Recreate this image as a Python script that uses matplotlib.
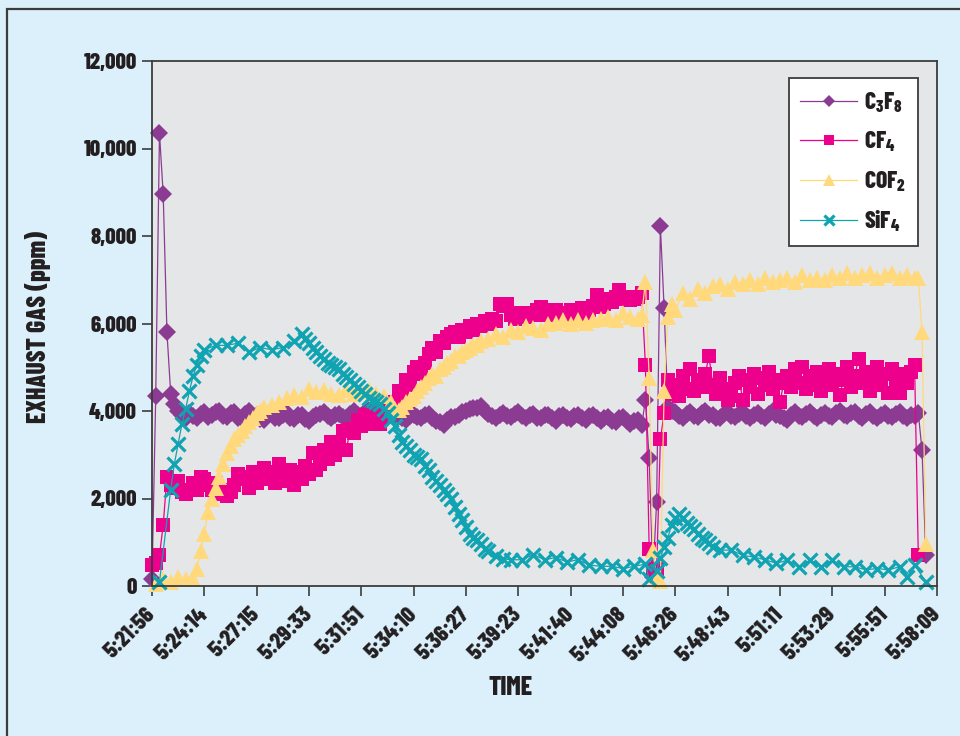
import matplotlib
matplotlib.use("Agg")
import matplotlib.pyplot as plt
from matplotlib.patches import Rectangle
from matplotlib.ticker import FuncFormatter

# ---- data -----------------------------------------------------------------
# sample index -> concentration (ppm); None = no reading for that sample
time_labels = ["5:21:56", "5:24:14", "5:27:15", "5:29:33", "5:31:51", "5:34:10",
               "5:36:27", "5:39:23", "5:41:40", "5:44:08", "5:46:26", "5:48:43",
               "5:51:11", "5:53:29", "5:55:51", "5:58:09"]
samples_per_label = 14

c3f8 = [
    160, 4350, 10350, 8950, 5800, 4400, 4150, 4000, 3900, 3850,
    3950, 3880, 3830, 3940, 3980, 3860, 3900, 3980, 4000, 3880,
    3860, 3950, 3980, 3850, 3830, 3940, 3990, 3870, 3910, 3820,
    3800, 3900, 3930, 3840, 3830, 3920, 3960, 3850, 3810, 3900,
    3920, 3820, 3780, 3870, 3900, 3940, 3970, 3880, 3840, 3920,
    3940, 3860, 3830, 3930, 3990, 3910, 3880, 3970, 4020, 3950,
    3970, 3880, 3850, 3950, 4000, 3920, 3880, 3840, 3800, 3890,
    3920, 3860, 3830, 3920, 3940, 3840, 3780, 3740, 3690, 3800,
    3870, 3860, 3920, 3970, 4000, 4040, 4070, 4060, 4110, 4010,
    3930, 3880, 3830, 3910, 3950, 3880, 3860, 3940, 3970, 3880,
    3830, 3900, 3940, 3850, 3830, 3910, 3920, 3830, 3780, 3880,
    3920, 3840, 3810, 3890, 3900, 3830, 3800, 3890, 3920, 3830,
    3780, 3850, 3870, 3780, 3760, 3840, 3870, 3770, 3700, 3780,
    3800, 3680, 4250, 2920, 200, 1930, 8230, 6350, 4100, 4000,
    3970, 3880, 3830, 3940, 3970, 3880, 3860, 3950, 4000, 3900,
    3920, 3850, 3830, 3930, 3970, 3880, 3860, 3940, 3980, 3890,
    3830, 3910, 3950, 3880, 3850, 3940, 4000, 3920, 3880, 3840,
    3800, 3900, 3970, 3890, 3860, 3940, 3980, 3880, 3830, 3910,
    3950, 3880, 3860, 3950, 3990, 3910, 3880, 3960, 3980, 3890,
    3850, 3930, 3970, 3880, 3830, 3910, 3950, 3880, 3860, 3940,
    3970, 3890, 3850, 3910, 3880, 3950, 3100, 700,
]

cf4 = [
    480, 520, 700, 1400, 2500, 2300, 2250, 2400, 2150, 2100,
    2200, 2350, 2200, 2500, 2450, 2300, 2200, 2350, 2100, 2200,
    2050, 2150, 2300, 2550, 2450, 2500, 2250, 2600, 2350, 2500,
    2700, 2450, 2600, 2350, 2800, 2500, 2400, 2650, 2300, 2600,
    2450, 2750, 2550, 3050, 2650, 2800, 3100, 2900, 3300, 3000,
    3250, 3550, 3100, 3600, 3500, 3800, 3650, 3900, 3700, 3850,
    3800, 3700, 3950, 4000, 4150, 4200, 4450, 4350, 4700, 4600,
    4900, 5000, 4850, 5100, 5300, 5450, 5350, 5600, 5550, 5700,
    5750, 5800, 5700, 5850, 5800, 5950, 5850, 6000, 5950, 6050,
    6000, 6100, 6050, 6450, 6400, 6450, 6200, 6100, 6250, 6150,
    6150, 6250, 6200, 6300, 6380, 6200, 6300, 6250, 6310, 6200,
    6250, 6200, 6300, 6270, 6200, 6350, 6250, 6300, 6400, 6650,
    6380, 6450, 6550, 6500, 6610, 6770, 6550, 6600, 6540, 6550,
    6600, 6700, 5050, 850, 400, 380, 3350, 3950, 4700, 4400,
    4600, 4350, 4800, 4500, 4950, 4450, 4700, 4550, 4850, 5250,
    4600, 4400, 4750, 4500, 4250, 4350, 4650, 4800, 4250, 4700,
    4550, 4850, 4400, 4750, 4600, 4900, 4500, 4700, 4200, 4650,
    4800, 4550, 4950, 4650, 5000, 4500, 4800, 4600, 4900, 4450,
    4750, 4950, 4600, 4850, 4370, 4700, 5000, 4550, 4800, 5200,
    4650, 4900, 4450, 4750, 5000, 4600, 4850, 4410, 4950, 4700,
    4410, 4850, 4650, 4900, 5050, 700, None, None,
]

cof2 = [
    None, 50, None, 150, None, 100, None, 200, None, 150,
    None, 150, 400, 800, 1200, 1700, 2000, 2250, 2500, 2800,
    3050, 3200, 3350, 3450, 3550, 3650, 3750, 3850, 3950, 4000,
    4100, None, 4140, None, 4210, None, 4300, None, 4370, None,
    4320, None, 4500, None, 4430, None, 4480, None, 4400, None,
    4370, None, 4480, None, 4400, None, 4450, None, 4480, None,
    4400, None, 4350, None, 4210, 4050, 4020, 4100, 4200, 4280,
    4350, 4450, 4550, 4650, 4750, 4850, 4800, 4950, 5000, 5100,
    5150, 5250, 5250, 5350, 5400, 5450, 5500, 5500, 5600, None,
    5650, None, 5750, None, 5700, None, 5850, None, 5800, None,
    5950, None, 5900, None, 5850, None, 6000, None, 6020, None,
    6080, None, 6000, None, 6080, None, 6020, None, 6080, None,
    6100, None, 6150, None, 6080, None, 6240, None, 6150, None,
    6100, 6200, 6950, 4750, 820, 150, 120, 4450, 6150, 6450,
    6300, None, 6700, None, 6550, None, 6800, None, 6700, None,
    6850, None, 6900, None, 6800, None, 6950, None, 6900, None,
    7000, None, 6900, None, 7050, None, 6950, None, 7000, None,
    7050, None, 6950, None, 7100, None, 7000, None, 7050, None,
    7000, None, 7100, None, 7050, None, 7150, None, 7050, None,
    7100, None, 7150, None, 7050, None, 7100, None, 7150, None,
    7050, None, 7100, None, 7050, 7050, 5800, 950,
]

sif4 = [
    None, None, 100, None, None, 2200, 2800, 3250, 3700, 4050,
    4450, 4800, 5050, 5250, 5400, None, None, 5500, None, None,
    5500, None, None, 5550, None, None, 5350, None, None, 5450,
    None, None, 5400, None, None, 5450, None, None, 5600, None,
    5750, 5650, 5550, 5450, 5350, 5250, 5200, 5100, 5050, 5000,
    4950, 4850, 4780, 4700, 4620, 4550, 4450, 4380, 4300, 4250,
    4200, 4150, 4050, 3950, 3800, 3650, 3450, 3300, 3200, 3100,
    3000, 2950, 2900, 2750, 2650, 2500, 2400, 2300, 2200, 2100,
    2000, 1800, 1650, 1500, 1350, 1200, 1100, 1050, 950, 850,
    800, None, 680, None, 620, None, 600, None, None, 600,
    None, None, 720, None, None, 600, None, None, 650, None,
    None, 550, None, None, 600, None, None, 480, None, None,
    450, None, None, 450, None, None, 400, None, None, 450,
    None, None, 500, 150, None, 350, 650, 900, 1100, 1400,
    1550, 1650, 1550, 1450, 1380, 1300, 1200, 1100, 1050, 980,
    900, None, 820, None, None, 820, None, None, 700, None,
    None, 660, None, None, 600, None, None, 520, None, None,
    590, None, None, 440, None, None, 590, None, None, 440,
    None, None, 590, None, None, 440, None, None, 440, None,
    None, 370, None, None, 400, None, None, 370, None, None,
    440, None, 210, None, 480, None, None, 100,
]

series_names = ["C$_3$F$_8$", "CF$_4$", "COF$_2$", "SiF$_4$"]

# ---- style ----------------------------------------------------------------
BG = "#dbf0fb"
PLOT_BG = "#e5e6e8"
INK = "#231f20"
FONT = ["Barlow Condensed", "DejaVu Sans"]
WEIGHT = 800

plt.rcParams["font.family"] = FONT
plt.rcParams["font.weight"] = WEIGHT
plt.rcParams["mathtext.fontset"] = "custom"
for key in ("mathtext.rm", "mathtext.it", "mathtext.bf"):
    plt.rcParams[key] = f"Barlow Condensed:weight={WEIGHT}"

styles = [
    # marker fill, line colour, marker, size, edge width
    dict(color="#8c3b93", lc="#8c3b93", marker="D", ms=8.8, mew=0.0),
    dict(color="#ec008c", lc="#ec008c", marker="s", ms=9.5, mew=0.0),
    dict(color="#ffd97c", lc="#ffd97c", marker="^", ms=11.5, mew=0.0),
    dict(color="#10a3b1", lc="#10a3b1", marker="x", ms=10.5, mew=2.3),
]

fig = plt.figure(figsize=(9.6, 7.36), dpi=100, facecolor=BG)
fig.patches.append(Rectangle((7 / 960, -0.05), 1.2, 1 - 9 / 736 + 0.05,
                             transform=fig.transFigure, fill=False,
                             edgecolor="#3c3c3c", lw=1.6))

ax = fig.add_axes([152 / 960, 1 - 586 / 736, 785 / 960, 525 / 736])
ax.set_facecolor(PLOT_BG)

for name, values, st in zip(series_names, [c3f8, cf4, cof2, sif4], styles):
    xs = [i for i, v in enumerate(values) if v is not None]
    ys = [v for v in values if v is not None]
    ax.plot(xs, ys, color=st["lc"], lw=0.9, marker=st["marker"], ms=st["ms"],
            mfc=st["color"], mec=st["color"], mew=st["mew"], label=name,
            clip_on=False)

n_ticks = len(time_labels)
ax.set_xlim(0, samples_per_label * (n_ticks - 1))
ax.set_xticks([samples_per_label * k for k in range(n_ticks)])
ax.set_xticklabels(time_labels, rotation=45, ha="right", va="center",
                   rotation_mode="anchor", fontsize=16.5, fontweight=WEIGHT)

ax.set_ylim(0, 12000)
ax.set_yticks(range(0, 12001, 2000))
ax.yaxis.set_major_formatter(FuncFormatter(lambda v, p: f"{int(v):,}"))

ax.tick_params(axis="both", direction="out", length=7, width=1.2,
               color="#3c3c3c", labelcolor=INK)
ax.tick_params(axis="x", pad=11)
ax.tick_params(axis="y", pad=4, labelsize=16.5)
for lab in ax.get_yticklabels():
    lab.set_fontweight(WEIGHT)

for side in ["left", "bottom", "top", "right"]:
    ax.spines[side].set_color("#3c3c3c")
    ax.spines[side].set_linewidth(1.3)

fig.text(38 / 960, 1 - 327 / 736, "EXHAUST GAS (ppm)", rotation=90,
         ha="center", va="center", fontsize=18.5, fontweight=WEIGHT, color=INK)
fig.text(511 / 960, 1 - 688 / 736, "TIME", ha="center", va="center",
         fontsize=18.5, fontweight=WEIGHT, color=INK)

leg = ax.legend(loc="upper right", bbox_to_anchor=(1 - 19 / 785, 1 - 17 / 525),
                borderaxespad=0, frameon=True, fancybox=False, fontsize=17,
                handlelength=2.4, markerscale=0.72, labelspacing=0.62,
                borderpad=0.5, handletextpad=0.3)
frame = leg.get_frame()
frame.set_facecolor("white")
frame.set_edgecolor("#3c3c3c")
frame.set_linewidth(1.3)
frame.set_alpha(1)
for t in leg.get_texts():
    t.set_color(INK)

fig.savefig("out.png", dpi=100, facecolor=BG)
